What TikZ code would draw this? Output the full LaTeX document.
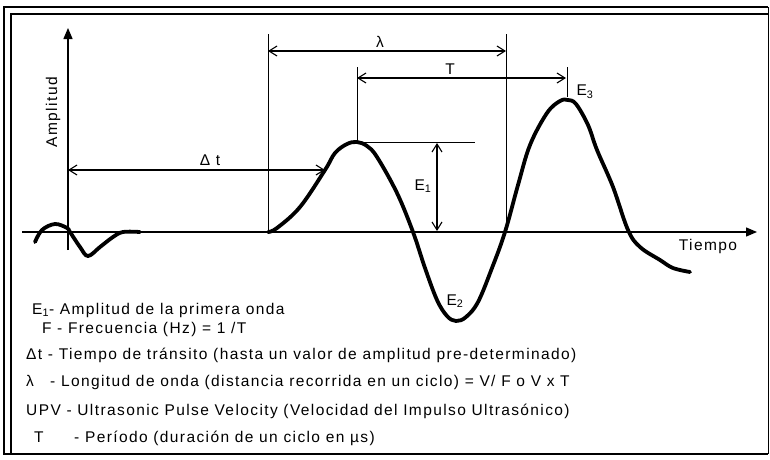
\documentclass[tikz,border=0pt]{standalone}
\usepackage{fontspec}
\setmainfont{Liberation Sans}[LetterSpace=9]
\usetikzlibrary{arrows.meta}

\tikzset{
  dim/.style={{Straight Barb[length=8pt,width=10pt]}-{Straight Barb[length=8pt,width=10pt]}, line width=1.1pt},
  guide/.style={line width=1pt},
  axis/.style={-{Triangle[length=11pt,width=9pt]}, line width=1.4pt},
  wave/.style={line width=3.8pt, line cap=round, line join=round},
  lbl/.style={font=\fontsize{15.5}{18}\selectfont, inner sep=0pt},
  leg/.style={lbl, anchor=west},
}

\begin{document}
\begin{tikzpicture}[x=1pt,y=-1pt]
    \useasboundingbox (0,0) rectangle (770,459);
    % Marco
    \draw[line width=2.6pt] (768,7) -- (4,7) -- (4,454) -- (768,454);
    \draw[line width=0.8pt] (768,7) -- (768,454);
    \draw[line width=1.6pt] (11,454) -- (11,14) -- (768,14);

    % Ejes
    \coordinate (yBot) at (68,250);
    \coordinate (yTop) at (68,28);
    \coordinate (xL) at (22,232);
    \coordinate (xR) at (757,232);
    \draw[axis] (yBot) -- (yTop);
    \draw[axis] (xL) -- (xR);
    \node[lbl,rotate=90] (amp) at (53,112) {Amplitud};
    \node[lbl] (tiempo) at (708,246) {Tiempo};

    % Onda
    \draw[wave] plot[smooth,tension=0.6] coordinates {(35,242) (42,230) (55,224) (67,228)
        (70,232) (80,247) (88,256) (100,247) (113,237) (123,232) (140,232)};
    \draw[wave] plot[smooth,tension=0.6] coordinates {(268,232) (277,228) (300,207)
        (325,170) (335,153) (347,144) (357,142) (367,146) (377,157) (397,193) (413,232)
        (425,268) (437,300) (447,316) (456,321) (466,317) (478,302) (492,268) (505,232)
        (518,185) (530,145) (547,113) (560,101) (568,100) (576,104) (588,125) (597,150)
        (613,187) (628,230) (640,247) (660,260) (673,268) (690,272)};

    % Lineas de referencia
    \coordinate (g1t) at (268,34);
    \coordinate (g1b) at (268,232);
    \coordinate (g2t) at (506,34);
    \coordinate (g2b) at (506,222);
    \coordinate (P1) at (357,142);
    \coordinate (g3t) at (357,67);
    \coordinate (h1) at (475,142);
    \coordinate (g4t) at (567,67);
    \coordinate (g4b) at (567,97);
    \draw[guide] (g1t) -- (g1b);
    \draw[guide] (g2t) -- (g2b);
    \draw[guide] (g3t) -- (P1);
    \draw[guide] (P1) -- (h1);
    \draw[guide] (g4t) -- (g4b);

    % Cotas
    \coordinate (lamL) at (268,51);
    \coordinate (lamR) at (506,51);
    \coordinate (perL) at (357,78);
    \coordinate (perR) at (566,78);
    \coordinate (dtL) at (68,170);
    \coordinate (dtR) at (325,170);
    \coordinate (eT) at (437,143);
    \coordinate (eB) at (437,231);
    \draw[dim] (lamL) -- (lamR);
    \draw[dim] (perL) -- (perR);
    \draw[dim] (dtL) -- (dtR);
    \draw[dim] (eT) -- (eB);
    \node[lbl] (lam) at (380,42) {λ};
    \node[lbl] (per) at (450,69) {T};
    \node[lbl] (dt) at (210,160) {Δ t};
    \node[lbl] (e1) at (423,186) {E\textsubscript{1}};
    \node[lbl] (e2) at (455,301) {E\textsubscript{2}};
    \node[lbl] (e3) at (585,92) {E\textsubscript{3}};

    % Leyenda
    \node[leg] (l1) at (32,310) {E\textsubscript{1}- Amplitud de la primera onda};
    \node[leg] (l2) at (42,329) {\makebox[15pt][l]{F}- Frecuencia (Hz) = 1 /T};
    \node[leg] (l3) at (26,355) {Δt - Tiempo de tránsito (hasta un valor de amplitud pre-determinado)};
    \node[leg] (l4) at (26,382) {\makebox[24pt][l]{λ}- Longitud de onda (distancia recorrida en un ciclo) = V/ F o V x T};
    \node[leg] (l5) at (26,411) {UPV - Ultrasonic Pulse Velocity (Velocidad del Impulso Ultrasónico)};
    \node[leg] (l6) at (34,438) {\makebox[40pt][l]{T}- Período (duración de un ciclo en µs)};
\end{tikzpicture}
\end{document}
